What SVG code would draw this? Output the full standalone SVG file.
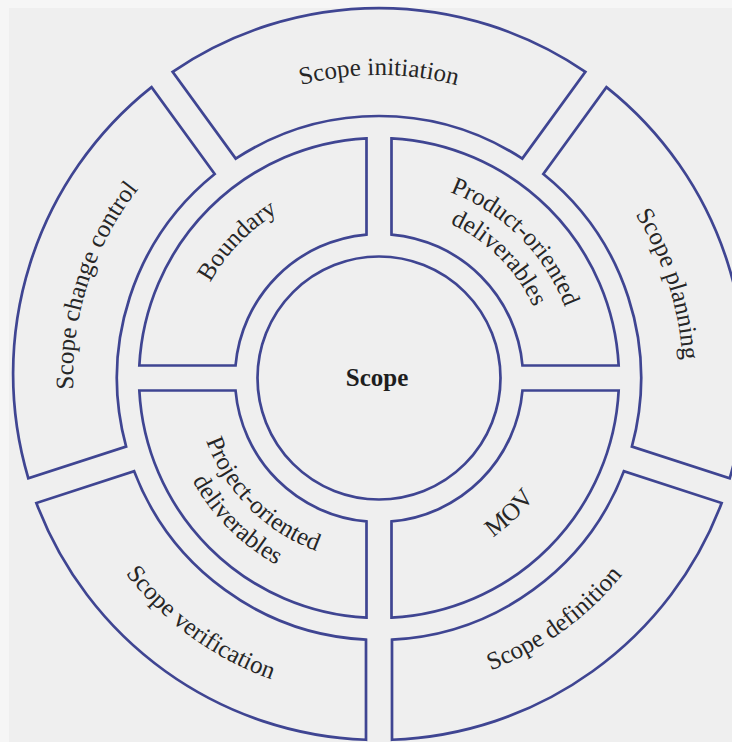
<svg xmlns="http://www.w3.org/2000/svg" width="732" height="742" viewBox="0 0 732 742">
  <style>
    .seg { fill: none; stroke: #3f4592; stroke-width: 2.7; stroke-linejoin: miter; }
    .lbl { font-family: "Liberation Serif", "DejaVu Serif", serif; font-size: 25px; fill: #262626; }
    .core { font-family: "Liberation Serif", "DejaVu Serif", serif; font-size: 25px; font-weight: bold; fill: #1e1e1e; }
  </style>
  <defs>
    <!-- baseline arcs for the curved labels (centre 379,378) -->
    <path id="p-init" d="M 80.6 325.4 A 303 303 0 0 1 677.4 325.4"/>
    <path id="p-plan" d="M 336.69 76.96 A 304 304 0 0 1 521.72 646.42"/>
    <path id="p-ctrl" d="M 235.34 648.18 A 306 306 0 0 1 421.59 74.98"/>
    <path id="p-def" d="M 161.57 603.15 A 313 313 0 0 0 660.32 240.79"/>
    <path id="p-ver" d="M 91.39 237.72 A 320 320 0 0 0 601.29 608.19"/>
    <path id="p-bnd" d="M 222.05 492.03 A 194 194 0 0 1 487.48 217.17"/>
    <path id="p-prod1" d="M 264.86 215.00 A 199 199 0 0 1 542.01 492.14"/>
    <path id="p-prod2" d="M 281.49 238.75 A 170 170 0 0 1 518.25 475.51"/>
    <path id="p-proj1" d="M 228.28 272.46 A 184 184 0 0 0 484.54 528.72"/>
    <path id="p-proj2" d="M 204.52 255.83 A 213 213 0 0 0 501.17 552.48"/>
    <path id="p-mov" d="M 263.79 536.57 A 196 196 0 0 0 541.49 268.40"/>
  </defs>

  <!-- page -->
  <rect x="0" y="0" width="732" height="742" fill="#efefef"/>
  <rect x="0" y="0" width="732" height="8" fill="#f6f6f6"/>
  <rect x="0" y="0" width="9" height="742" fill="#f6f6f6"/>

  <!-- outer ring: five phases -->
  <g id="scope-initiation">
    <path class="seg" d="M 172.63 71.83 A 366 366 0 0 1 585.37 71.83 L 522.29 158.66 A 262 262 0 0 0 235.71 158.66 Z"/>
    <text class="lbl"><textPath href="#p-init" startOffset="50%" text-anchor="middle">Scope initiation</textPath></text>
  </g>
  <g id="scope-planning">
    <path class="seg" d="M 606.41 87.11 A 366 366 0 0 1 729.68 478.28 L 631.90 446.50 A 262 262 0 0 0 543.33 173.94 Z"/>
    <text class="lbl"><textPath href="#p-plan" startOffset="50%" text-anchor="middle">Scope planning</textPath></text>
  </g>
  <g id="scope-definition">
    <path class="seg" d="M 721.64 503.00 A 366 366 0 0 1 392 739.77 L 392 639.68 A 262 262 0 0 0 623.86 471.22 Z"/>
    <text class="lbl"><textPath href="#p-def" startOffset="50%" text-anchor="middle">Scope definition</textPath></text>
  </g>
  <g id="scope-verification">
    <path class="seg" d="M 366 739.77 A 366 366 0 0 1 36.36 503.00 L 134.14 471.22 A 262 262 0 0 0 366 639.68 Z"/>
    <text class="lbl"><textPath href="#p-ver" startOffset="50%" text-anchor="middle">Scope verification</textPath></text>
  </g>
  <g id="scope-change-control">
    <path class="seg" d="M 28.32 478.28 A 366 366 0 0 1 151.59 87.11 L 214.67 173.94 A 262 262 0 0 0 126.10 446.50 Z"/>
    <text class="lbl"><textPath href="#p-ctrl" startOffset="50%" text-anchor="middle">Scope change control</textPath></text>
  </g>

  <!-- middle ring: four quadrants -->
  <g id="boundary">
    <path class="seg" d="M 366.5 138.33 L 366.5 234.54 A 144 144 0 0 0 235.54 365.5 L 139.33 365.5 A 240 240 0 0 1 366.5 138.33 Z"/>
    <text class="lbl"><textPath href="#p-bnd" startOffset="50%" text-anchor="middle">Boundary</textPath></text>
  </g>
  <g id="product-oriented-deliverables">
    <path class="seg" d="M 391.5 234.54 L 391.5 138.33 A 240 240 0 0 1 618.67 365.5 L 522.46 365.5 A 144 144 0 0 0 391.5 234.54 Z"/>
    <text class="lbl"><textPath href="#p-prod1" startOffset="50%" text-anchor="middle">Product-oriented</textPath></text>
    <text class="lbl"><textPath href="#p-prod2" startOffset="50%" text-anchor="middle">deliverables</textPath></text>
  </g>
  <g id="mov">
    <path class="seg" d="M 522.46 390.5 L 618.67 390.5 A 240 240 0 0 1 391.5 617.67 L 391.5 521.46 A 144 144 0 0 0 522.46 390.5 Z"/>
    <text class="lbl"><textPath href="#p-mov" startOffset="50%" text-anchor="middle">MOV</textPath></text>
  </g>
  <g id="project-oriented-deliverables">
    <path class="seg" d="M 139.33 390.5 L 235.54 390.5 A 144 144 0 0 0 366.5 521.46 L 366.5 617.67 A 240 240 0 0 1 139.33 390.5 Z"/>
    <text class="lbl"><textPath href="#p-proj1" startOffset="50%" text-anchor="middle">Project-oriented</textPath></text>
    <text class="lbl"><textPath href="#p-proj2" startOffset="50%" text-anchor="middle">deliverables</textPath></text>
  </g>

  <!-- core -->
  <g id="scope">
    <circle class="seg" cx="379" cy="378" r="121.5"/>
    <text class="core" x="377" y="386" text-anchor="middle">Scope</text>
  </g>
</svg>
